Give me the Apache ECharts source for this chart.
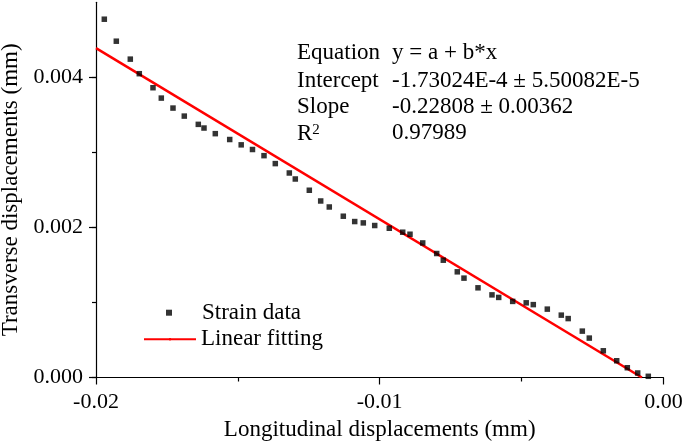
<!DOCTYPE html>
<html>
<head>
<meta charset="utf-8">
<script src="https://cdn.jsdelivr.net/npm/echarts@6/dist/echarts.min.js"></script>
<style>html,body{margin:0;padding:0;background:#fff}#c{width:685px;height:441px}</style>
</head>
<body>
<div id="c"></div>
<script>
// Strain data (mm)
var strainX = [-0.019707,-0.019284,-0.018791,-0.018474,-0.017991,-0.017698,-0.017286,-0.016888,-0.016394,-0.016193,-0.015795,-0.015287,-0.014882,-0.014484,-0.014078,-0.013680,-0.013186,-0.012975,-0.012481,-0.012080,-0.011777,-0.011283,-0.010881,-0.010578,-0.010176,-0.009662,-0.009189,-0.008932,-0.008484,-0.007991,-0.007758,-0.007265,-0.007029,-0.006535,-0.006042,-0.005805,-0.005312,-0.004836,-0.004586,-0.004092,-0.003599,-0.003356,-0.002858,-0.002612,-0.002118,-0.001646,-0.001272,-0.000906,-0.000532];
var strainY = [0.004774,0.004481,0.004242,0.004048,0.003861,0.003723,0.003590,0.003483,0.003373,0.003324,0.003249,0.003171,0.003100,0.003038,0.002956,0.002850,0.002725,0.002645,0.002495,0.002352,0.002272,0.002149,0.002078,0.002060,0.002025,0.001989,0.001936,0.001909,0.001793,0.001652,0.001563,0.001408,0.001324,0.001195,0.001101,0.001067,0.001014,0.000995,0.000971,0.000911,0.000831,0.000785,0.000618,0.000525,0.000356,0.000223,0.000130,0.000060,0.000016];
// Linear fitting endpoints
var fitX = [-0.02, -0.000759];
var fitY = [0.0043886, 0];
// Fit report
var reportLabels = ['Equation', 'Intercept', 'Slope', '{r|R}{s|2}'];
var reportValues = ['y = a + b*x', '-1.73024E-4 \u00B1 5.50082E-5', '-0.22808 \u00B1 0.00362', '0.97989'];

var FONT = 'Liberation Serif';
var chart = echarts.init(document.getElementById('c'), null, {renderer: 'canvas'});

var scatterData = strainX.map(function (x, i) { return [x, strainY[i]]; });
var fitData = fitX.map(function (x, i) { return [x, fitY[i]]; });

var rowY = [53.3, 80.7, 107.3, 133.3];
var rich = {
  r: {fontFamily: FONT, fontSize: 23, fill: '#000', lineHeight: 24, verticalAlign: 'bottom'},
  s: {fontFamily: FONT, fontSize: 15, fill: '#000', lineHeight: 24, verticalAlign: 'top', padding: [1, 0, 0, 0]}
};
var graphics = [];
reportLabels.forEach(function (t, i) {
  graphics.push({type: 'text', x: 297, y: rowY[i], style: {text: t, fontFamily: FONT, fontSize: 23, fill: '#000', verticalAlign: 'middle', rich: rich}});
  graphics.push({type: 'text', x: 392, y: rowY[i], style: {text: reportValues[i], fontFamily: FONT, fontSize: 23, fill: '#000', verticalAlign: 'middle'}});
});

var axisTxt = {fontFamily: FONT, fontSize: 22, color: '#000'};
var nameTxt = {fontFamily: FONT, fontSize: 23, color: '#000'};

chart.setOption({
  animation: false,
  backgroundColor: '#fff',
  grid: [
    {left: 96, right: 21.6, top: 2.25, bottom: 63.5, containLabel: false, outerBoundsMode: 'none'},
    {left: 96, right: 21.6, top: 77.3, bottom: 63.5, containLabel: false, outerBoundsMode: 'none'}
  ],
  xAxis: [
    {
      type: 'value', gridIndex: 0, min: -0.02, max: 0, interval: 0.01,
      name: 'Longitudinal displacements (mm)', nameLocation: 'middle', nameGap: 39,
      nameTextStyle: nameTxt,
      axisLine: {show: true, onZero: false, lineStyle: {color: '#000', width: 1.2}},
      axisTick: {show: true, inside: false, length: 7, lineStyle: {color: '#000', width: 1.2}},
      minorTick: {show: true, splitNumber: 2, length: 4, lineStyle: {color: '#000', width: 1.2}},
      axisLabel: Object.assign({margin: 14, formatter: function (v) { return v.toFixed(2); }}, axisTxt),
      splitLine: {show: false}
    },
    {type: 'value', gridIndex: 1, min: -0.02, max: 0, show: false}
  ],
  yAxis: [
    {
      type: 'value', gridIndex: 0, position: 'left', min: 0, max: 0.005, interval: 0.001,
      name: 'Transverse displacements (mm)', nameLocation: 'middle', nameGap: 71,
      nameTextStyle: nameTxt,
      axisLine: {show: true, onZero: false, lineStyle: {color: '#000', width: 1.2}},
      axisTick: {show: true, inside: false, length: 4, lineStyle: {color: '#000', width: 1.2}},
      axisLabel: Object.assign({margin: 13, showMaxLabel: false, formatter: function (v) {
        var k = Math.round(v * 1000);
        return (k % 2 === 0 && k < 5) ? v.toFixed(3) : '';
      }}, axisTxt),
      splitLine: {show: false}
    },
    {
      type: 'value', gridIndex: 1, position: 'left', min: 0, max: 0.004, interval: 0.002,
      axisLine: {show: false, onZero: false},
      axisTick: {show: true, inside: false, length: 7, lineStyle: {color: '#000', width: 1.2}},
      axisLabel: {show: false},
      splitLine: {show: false}
    }
  ],
  legend: [
    {
      data: ['Strain data'], left: 166, top: 300.7, padding: 0, icon: 'rect',
      itemWidth: 6, itemHeight: 6, selectedMode: false,
      textStyle: {fontFamily: FONT, fontSize: 23, color: '#000', lineHeight: 24, padding: [0, 0, 0, 25]}
    },
    {
      data: ['Linear fitting'], left: 143, top: 327.3, padding: 0,
      itemWidth: 52, itemHeight: 3, selectedMode: false,
      textStyle: {fontFamily: FONT, fontSize: 23, color: '#000', lineHeight: 24}
    }
  ],
  series: [
    {
      name: 'Linear fitting', type: 'line', xAxisIndex: 0, yAxisIndex: 0,
      data: fitData, showSymbol: false, symbol: 'none',
      lineStyle: {color: '#ff0000', width: 2.5}, itemStyle: {color: '#ff0000'}, z: 2
    },
    {
      name: 'Strain data', type: 'scatter', xAxisIndex: 0, yAxisIndex: 0,
      data: scatterData, symbol: 'rect', symbolSize: 5.5,
      itemStyle: {color: '#000'}, z: 3
    }
  ],
  graphic: graphics
});
</script>
</body>
</html>
